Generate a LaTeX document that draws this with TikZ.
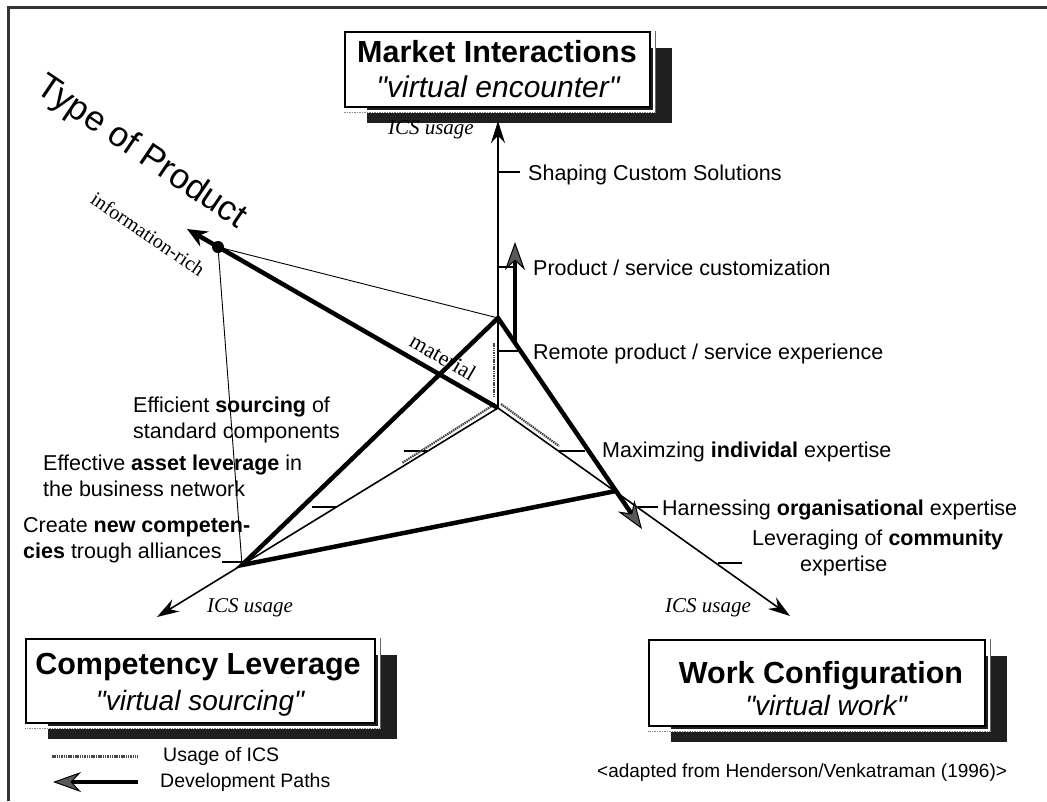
\documentclass[tikz,border=0pt]{standalone}
\usepackage{fontspec}
\setmainfont{Liberation Sans}
\newfontfamily\serifrm{Liberation Serif}
\usetikzlibrary{arrows.meta,shadows}
\newcommand{\lblfont}{\fontsize{21.5}{26}\selectfont}
\newcommand{\qq}{\textquotedbl}
\begin{document}
\begin{tikzpicture}[x=1pt,y=-1pt,
  axisline/.style={line width=1.6pt,-{Stealth[length=22pt,width=14pt]}},
  thinline/.style={line width=0.9pt},
  tickmark/.style={line width=1.5pt},
  devline/.style={line width=4.5pt, line join=miter, line cap=butt},
  devarrow/.style={line width=4.5pt,-{Stealth[length=28pt,width=20pt,fill=black!65,line width=1pt]}},
  icsline/.style={draw=black!72, line width=2.2pt, dash pattern=on 1.5pt off 0.8pt},
  vbox/.style={draw, line width=2.5pt, fill=white, inner sep=0pt,
    drop shadow={shadow xshift=22pt, shadow yshift=-16pt, fill=black!88, opacity=1}},
  titletxt/.style={font=\bfseries\fontsize{30.5}{34}\selectfont, anchor=base, inner sep=0pt},
  subtxt/.style={font=\itshape\fontsize{28}{32}\selectfont, anchor=base, inner sep=0pt},
  lbl/.style={font=\lblfont, anchor=base west, inner sep=0pt, align=left},
  icslbl/.style={font=\serifrm\itshape\fontsize{21}{24}\selectfont, inner sep=0pt},
  legtxt/.style={font=\fontsize{19.5}{23}\selectfont, anchor=west, inner sep=0pt},
  dot/.style={circle, fill=black, inner sep=0pt, minimum size=12pt}
]
\path[use as bounding box] (0,0) rectangle (1047,801);
% frame
\draw[line width=3pt, black!80] (8,801) -- (8,7) -- (1047,7);

% key points
\coordinate (O) at (498,408);
\coordinate (T) at (498,318);
\coordinate (L) at (242,565);
\coordinate (R) at (616,491);
\coordinate (Utip) at (498,121);
\coordinate (Ltip) at (157,617);
\coordinate (Rtip) at (790,616);
\coordinate (Itip) at (187,229);
\coordinate (Rdev) at (642,529);
\coordinate (Vbase) at (515,344);
\coordinate (Vtip) at (515,242);

% boxes
\node[vbox, minimum width=305pt, minimum height=75pt] (mi) at (497.5,69.5) {};
\node[vbox, minimum width=349pt, minimum height=84pt] (cl) at (200.5,681) {};
\node[vbox, minimum width=336pt, minimum height=86pt] (wc) at (817,683) {};
\foreach \b in {mi,cl,wc}{
  \draw[line width=3pt, white] ([xshift=3pt]\b.north east) -- ([xshift=3pt,yshift=-3pt]\b.south east) -- ([yshift=-3pt]\b.south west);
  \draw[line width=0.8pt, black!60] ([xshift=4.5pt]\b.north east) -- ([xshift=4.5pt,yshift=-4.5pt]\b.south east);
  \draw[line width=1.2pt, black!45, dash pattern=on 1.5pt off 1pt] ([xshift=4.5pt,yshift=-4pt]\b.south east) -- ([yshift=-4pt]\b.south west);
}
\node[titletxt] (mi-t) at (497,62) {Market Interactions};
\node[subtxt, font=\itshape\fontsize{30}{34}\selectfont] (mi-s) at (498,97) {\qq virtual encounter\qq};
\node[titletxt] (cl-t) at (198,674) {Competency Leverage};
\node[subtxt] (cl-s) at (200,710) {\qq virtual sourcing\qq};
\node[titletxt] (wc-t) at (821,683) {Work Configuration};
\node[subtxt] (wc-s) at (826,715) {\qq virtual work\qq};

% axes
\draw[axisline] (O) -- (Utip);
\draw[axisline] (O) -- (Ltip);
\draw[axisline] (O) -- (Rtip);

% ticks
\draw[tickmark] (498,172) -- (520,172);
\draw[tickmark] (498,267) -- (513,267);
\draw[tickmark] (498,351) -- (518,351);
\draw[tickmark] (559,451) -- (585,451);
\draw[tickmark] (638,507) -- (658,507);
\draw[tickmark] (718,563) -- (742,563);
\draw[tickmark] (428,451) -- (404,451);
\draw[tickmark] (337,507) -- (312,507);
\draw[tickmark] (247,562) -- (222,562);

% ICS usage hatched lines
\draw[icsline] (494,343) -- (494,398);
\draw[icsline] (495,404) -- (402,463);
\draw[icsline] (501,404) -- (559,446);

% type of product
\node[dot] (I) at (218,247) {};
\draw[thinline] (I.center) -- (T);
\draw[thinline] (I.center) -- (L);

% development paths
\draw[devline] (L) -- (T) -- (R) -- cycle;
\draw[devline,-{Stealth[length=20pt,width=17pt]}] (O) -- (Itip);
\draw[devarrow] (R) -- (Rdev);
\draw[devarrow] (Vbase) -- (Vtip);

% labels
\node[icslbl, anchor=east] (ics-u) at (474,130) {ICS usage};
\node[icslbl] (ics-l) at (250,608) {ICS usage};
\node[icslbl] (ics-r) at (708,608) {ICS usage};

\node[lbl] (m1) at (528,180) {Shaping Custom Solutions};
\node[lbl] (m2) at (533,275) {Product / service customization};
\node[lbl] (m3) at (533,359) {Remote product / service experience};
\node[lbl] (w1) at (602,457) {Maximzing \textbf{individal} expertise};
\node[lbl] (w2) at (662,515) {Harnessing \textbf{organisational} expertise};
\node[lbl] (w3) at (752,571) {Leveraging of \textbf{community}\\\hspace*{48pt}expertise};
\node[lbl] (c1) at (133,438) {Efficient \textbf{sourcing} of\\standard components};
\node[lbl] (c2) at (43,496) {Effective \textbf{asset leverage} in\\the business network};
\node[lbl] (c3) at (23,558) {Create \textbf{new competen-}\\\textbf{cies} trough alliances};

\node[font=\fontsize{35}{40}\selectfont, rotate=-34, inner sep=0pt] (tp) at (141,153) {Type of Product};
\node[font=\serifrm\fontsize{20}{23}\selectfont, rotate=-34, inner sep=0pt] (ir) at (148,234) {information-rich};
\node[font=\serifrm\fontsize{22}{25}\selectfont, rotate=-30, inner sep=0pt] (mat) at (443,357) {material};

% legend
\coordinate (lg1a) at (52,756);
\coordinate (lg1b) at (138,756);
\coordinate (lg2a) at (138,782);
\coordinate (lg2b) at (53,782);
\draw[icsline, line width=3pt] (lg1a) -- (lg1b);
\draw[devarrow] (lg2a) -- (lg2b);
\node[legtxt] (lt1) at (163,756) {Usage of ICS};
\node[legtxt] (lt2) at (160,782) {Development Paths};
\node[font=\fontsize{19}{22}\selectfont, anchor=west, inner sep=0pt] (src) at (597,773) {<adapted from Henderson/Venkatraman (1996)>};
\end{tikzpicture}
\end{document}
